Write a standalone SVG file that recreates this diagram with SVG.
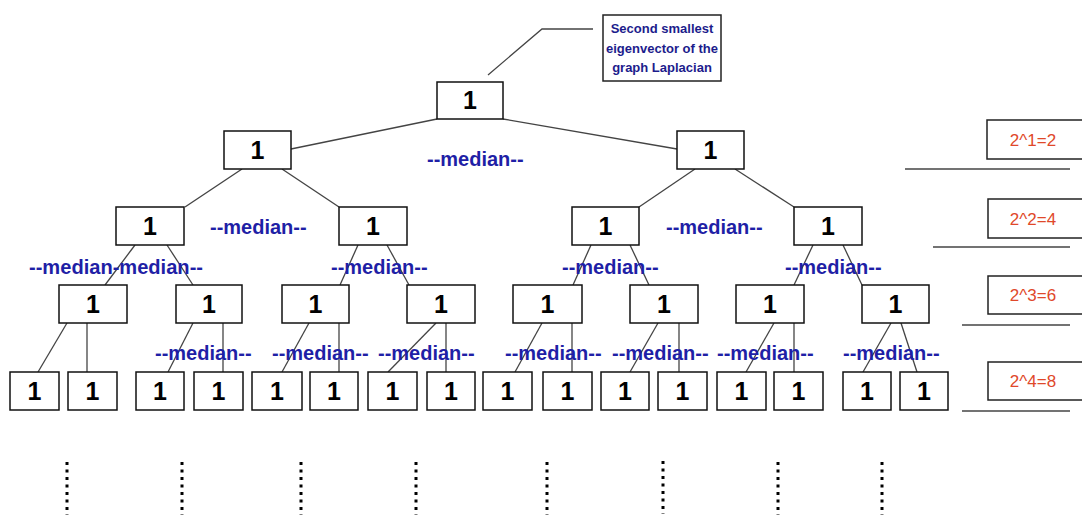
<svg xmlns="http://www.w3.org/2000/svg" width="1082" height="518" viewBox="0 0 1082 518">
<style>
.n rect{fill:#fff;stroke:#111;stroke-width:1.5}
.n text{font-family:"Liberation Sans",Arial,sans-serif;font-weight:bold;font-size:25px;fill:#000;text-anchor:middle}
.e line,.e polyline{stroke:#444;stroke-width:1.3;fill:none}
.m{font-family:"Liberation Sans",Arial,sans-serif;font-weight:bold;font-size:20px;fill:#1f1fa6}
.c text{font-family:"Liberation Sans",Arial,sans-serif;font-weight:bold;font-size:13px;fill:#1c1c8c;text-anchor:middle}
.lv rect{fill:#fff;stroke:#222;stroke-width:1.5}
.lv text{font-family:"Liberation Sans",Arial,sans-serif;font-size:17px;fill:#e0482a;text-anchor:middle}
.lv line{stroke:#444;stroke-width:1.5}
.d line{stroke:#000;stroke-width:3;stroke-dasharray:3 4.5}
</style>
<rect width="1082" height="518" fill="#fff"/>
<g class="e" id="connectors">
<polyline points="488,75 542,29 593,29"/>
<line x1="437" y1="119" x2="291" y2="149"/>
<line x1="503" y1="119" x2="677" y2="149"/>
<line x1="242" y1="169" x2="185" y2="207"/>
<line x1="282" y1="169" x2="339" y2="207"/>
<line x1="695" y1="169" x2="639" y2="207"/>
<line x1="735" y1="169" x2="794" y2="207"/>
<line x1="135" y1="245" x2="105" y2="285"/>
<line x1="167" y1="245" x2="193" y2="285"/>
<line x1="358" y1="245" x2="340" y2="285"/>
<line x1="387" y1="245" x2="409" y2="285"/>
<line x1="591" y1="245" x2="573" y2="285"/>
<line x1="630" y1="245" x2="649" y2="285"/>
<line x1="813" y1="245" x2="794" y2="285"/>
<line x1="843" y1="245" x2="862" y2="285"/>
<line x1="67" y1="323" x2="38" y2="372"/>
<line x1="87" y1="323" x2="87" y2="372"/>
<line x1="193" y1="323" x2="168" y2="372"/>
<line x1="223" y1="323" x2="223" y2="372"/>
<line x1="309" y1="323" x2="282" y2="372"/>
<line x1="339" y1="323" x2="339" y2="372"/>
<line x1="436" y1="323" x2="388" y2="372"/>
<line x1="446" y1="323" x2="446" y2="372"/>
<line x1="542" y1="323" x2="515" y2="372"/>
<line x1="572" y1="323" x2="572" y2="372"/>
<line x1="658" y1="323" x2="630" y2="372"/>
<line x1="679" y1="323" x2="679" y2="372"/>
<line x1="774" y1="323" x2="746" y2="372"/>
<line x1="794" y1="323" x2="794" y2="372"/>
<line x1="891" y1="323" x2="863" y2="372"/>
<line x1="901" y1="323" x2="917" y2="372"/>
</g>
<g id="callout" class="c">
<rect x="603" y="15" width="118" height="66" fill="#fff" stroke="#222" stroke-width="1.5"/>
<text x="662" y="33">Second smallest</text>
<text x="662" y="53">eigenvector of the</text>
<text x="662" y="72">graph Laplacian</text>
</g>
<g id="root" class="n"><rect x="437" y="82" width="66" height="37"/><text x="470" y="109">1</text></g>
<g id="n1a" class="n"><rect x="224" y="131" width="67" height="38"/><text x="257.5" y="159">1</text></g>
<g id="n1b" class="n"><rect x="677" y="131" width="67" height="38"/><text x="710.5" y="159">1</text></g>
<g id="n2a" class="n"><rect x="116" y="207" width="68" height="38"/><text x="150" y="235">1</text></g>
<g id="n2b" class="n"><rect x="339" y="207" width="68" height="38"/><text x="373" y="235">1</text></g>
<g id="n2c" class="n"><rect x="572" y="207" width="67" height="38"/><text x="605.5" y="235">1</text></g>
<g id="n2d" class="n"><rect x="794" y="207" width="68" height="38"/><text x="828" y="235">1</text></g>
<g id="n3a" class="n"><rect x="59" y="285" width="68" height="38"/><text x="93" y="313">1</text></g>
<g id="n3b" class="n"><rect x="176" y="285" width="66" height="38"/><text x="209" y="313">1</text></g>
<g id="n3c" class="n"><rect x="282" y="285" width="67" height="38"/><text x="315.5" y="313">1</text></g>
<g id="n3d" class="n"><rect x="407" y="285" width="68" height="38"/><text x="441" y="313">1</text></g>
<g id="n3e" class="n"><rect x="513" y="285" width="69" height="38"/><text x="547.5" y="313">1</text></g>
<g id="n3f" class="n"><rect x="630" y="285" width="68" height="38"/><text x="664" y="313">1</text></g>
<g id="n3g" class="n"><rect x="736" y="285" width="68" height="38"/><text x="770" y="313">1</text></g>
<g id="n3h" class="n"><rect x="862" y="285" width="67" height="38"/><text x="895.5" y="313">1</text></g>
<g id="n4a" class="n"><rect x="10" y="372" width="49" height="38"/><text x="34.5" y="400">1</text></g>
<g id="n4b" class="n"><rect x="68" y="372" width="49" height="38"/><text x="92.5" y="400">1</text></g>
<g id="n4c" class="n"><rect x="136" y="372" width="48" height="38"/><text x="160" y="400">1</text></g>
<g id="n4d" class="n"><rect x="194" y="372" width="49" height="38"/><text x="218.5" y="400">1</text></g>
<g id="n4e" class="n"><rect x="252" y="372" width="50" height="38"/><text x="277" y="400">1</text></g>
<g id="n4f" class="n"><rect x="310" y="372" width="48" height="38"/><text x="334" y="400">1</text></g>
<g id="n4g" class="n"><rect x="368" y="372" width="49" height="38"/><text x="392.5" y="400">1</text></g>
<g id="n4h" class="n"><rect x="427" y="372" width="48" height="38"/><text x="451" y="400">1</text></g>
<g id="n4i" class="n"><rect x="483" y="372" width="49" height="38"/><text x="507.5" y="400">1</text></g>
<g id="n4j" class="n"><rect x="543" y="372" width="49" height="38"/><text x="567.5" y="400">1</text></g>
<g id="n4k" class="n"><rect x="601" y="372" width="48" height="38"/><text x="625" y="400">1</text></g>
<g id="n4l" class="n"><rect x="658" y="372" width="49" height="38"/><text x="682.5" y="400">1</text></g>
<g id="n4m" class="n"><rect x="717" y="372" width="49" height="38"/><text x="741.5" y="400">1</text></g>
<g id="n4n" class="n"><rect x="774" y="372" width="49" height="38"/><text x="798.5" y="400">1</text></g>
<g id="n4o" class="n"><rect x="843" y="372" width="48" height="38"/><text x="867" y="400">1</text></g>
<g id="n4p" class="n"><rect x="900" y="372" width="48" height="38"/><text x="924" y="400">1</text></g>
<g id="medians">
<text class="m" x="427" y="166">--median--</text>
<text class="m" x="210" y="234">--median--</text>
<text class="m" x="666" y="234">--median--</text>
<text class="m" x="29" y="274" textLength="174" lengthAdjust="spacingAndGlyphs">--median-median--</text>
<text class="m" x="331" y="274">--median--</text>
<text class="m" x="562" y="274">--median--</text>
<text class="m" x="785" y="274">--median--</text>
<text class="m" x="155" y="360">--median--</text>
<text class="m" x="272" y="360">--median--</text>
<text class="m" x="378" y="360">--median--</text>
<text class="m" x="505" y="360">--median--</text>
<text class="m" x="612" y="360">--median--</text>
<text class="m" x="717" y="360">--median--</text>
<text class="m" x="843" y="360">--median--</text>
</g>
<g id="levels" class="lv">
<rect x="987" y="120" width="100" height="39"/><text x="1033" y="146">2^1=2</text>
<line x1="905" y1="169" x2="1070" y2="169"/>
<rect x="988" y="199" width="100" height="39"/><text x="1033" y="225">2^2=4</text>
<line x1="933" y1="247" x2="1070" y2="247"/>
<rect x="988" y="276" width="100" height="38"/><text x="1033" y="301">2^3=6</text>
<line x1="962" y1="325" x2="1070" y2="325"/>
<rect x="988" y="362" width="100" height="38"/><text x="1033" y="387">2^4=8</text>
<line x1="962" y1="411" x2="1070" y2="411"/>
</g>
<g id="dots" class="d">
<line x1="67" y1="462" x2="67" y2="515"/>
<line x1="182" y1="462" x2="182" y2="515"/>
<line x1="301" y1="462" x2="301" y2="515"/>
<line x1="416" y1="462" x2="416" y2="515"/>
<line x1="547" y1="462" x2="547" y2="515"/>
<line x1="663" y1="461" x2="663" y2="514"/>
<line x1="778" y1="462" x2="778" y2="515"/>
<line x1="882" y1="462" x2="882" y2="515"/>
</g>
</svg>
